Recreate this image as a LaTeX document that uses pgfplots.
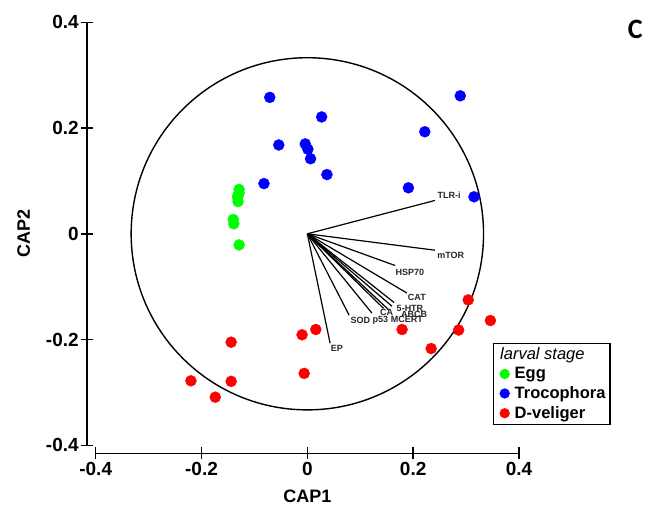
\documentclass[border=0pt]{standalone}
\usepackage{pgfplots}
\pgfplotsset{compat=1.18}
\usepackage{fontspec}
\setmainfont{Liberation Sans}
\newfontfamily\calibri{Carlito}
\definecolor{eggc}{RGB}{0,255,0}
\definecolor{troc}{RGB}{0,0,255}
\definecolor{dvel}{RGB}{255,0,0}
\begin{document}
\begin{tikzpicture}
\begin{axis}[
  scale only axis, width=423.3pt, height=423pt,
  xmin=-0.4, xmax=0.4, ymin=-0.4, ymax=0.4,
  axis lines=left, axis line style={-, line width=1.6pt},
  axis x line shift=8pt, axis y line shift=8.5pt,
  xtick={-0.4,-0.2,0,0.2,0.4}, ytick={-0.4,-0.2,0,0.2,0.4},
  tick align=center, major tick length=12pt,
  tick style={line width=1.4pt, black},
  /pgf/number format/assume math mode=true,
  tick label style={font=\bfseries\fontsize{19}{21}\selectfont},
  xticklabel style={yshift=1pt},
  yticklabel style={xshift=1pt},
  xlabel={CAP1}, ylabel={CAP2},
  label style={font=\bfseries\fontsize{18}{20}\selectfont},
  xlabel style={at={(axis description cs:0.5,-0.12)}, anchor=center},
  ylabel style={at={(axis description cs:-0.17,0.5)}, anchor=center},
  clip=false,
  legend style={at={(axis cs:0.351,-0.206)}, anchor=north west, draw=black,
    line width=1.2pt, font=\fontsize{16.5}{18}\selectfont, row sep=2.3pt, inner sep=2.5pt},
  legend cell align=left,
  legend image post style={mark size=4.5pt},
]
\coordinate (bl) at (rel axis cs:0,0);
\coordinate (tr) at (rel axis cs:1,1);
\draw[line width=1.4pt] (axis cs:0,0) circle [radius=0.333];

\addlegendimage{empty legend}
\addlegendentry{\hspace{-11pt}\textit{larval stage}}

\addplot[only marks, mark=*, mark size=5.5pt, color=eggc, mark options={draw=none, fill=eggc}] coordinates {
(-0.129,0.084) (-0.129,0.077) (-0.131,0.073) (-0.132,0.069) (-0.131,0.061)
(-0.140,0.027) (-0.139,0.019) (-0.129,-0.021)};
\addlegendentry{\hspace{3.5pt}\textbf{Egg}}

\addplot[only marks, mark=*, mark size=5.5pt, color=troc, mark options={draw=none, fill=troc}] coordinates {
(-0.071,0.258) (0.027,0.221) (-0.054,0.168) (-0.004,0.170) (0.001,0.160)
(0.006,0.142) (0.037,0.112) (-0.082,0.095) (0.289,0.261) (0.222,0.193)
(0.191,0.087) (0.315,0.070)};
\addlegendentry{\hspace{3.5pt}\textbf{Trocophora}}

\addplot[only marks, mark=*, mark size=5.5pt, color=dvel, mark options={draw=none, fill=dvel}] coordinates {
(-0.144,-0.205) (-0.220,-0.278) (-0.144,-0.279) (-0.174,-0.309) (-0.010,-0.191)
(0.016,-0.181) (-0.006,-0.264) (0.304,-0.125) (0.346,-0.164) (0.286,-0.182)
(0.234,-0.217) (0.179,-0.181)};
\addlegendentry{\hspace{3.5pt}\textbf{D-veliger}}

% vectors
\addplot[black, line width=1.2pt, forget plot] coordinates {(0,0) (0.241,0.063)};
\addplot[black, line width=1.2pt, forget plot] coordinates {(0,0) (0.241,-0.031)};
\addplot[black, line width=1.2pt, forget plot] coordinates {(0,0) (0.166,-0.060)};
\addplot[black, line width=1.2pt, forget plot] coordinates {(0,0) (0.188,-0.112)};
\addplot[black, line width=1.2pt, forget plot] coordinates {(0,0) (0.164,-0.130)};
\addplot[black, line width=1.2pt, forget plot] coordinates {(0,0) (0.160,-0.137)};
\addplot[black, line width=1.2pt, forget plot] coordinates {(0,0) (0.154,-0.144)};
\addplot[black, line width=1.2pt, forget plot] coordinates {(0,0) (0.144,-0.141)};
\addplot[black, line width=1.2pt, forget plot] coordinates {(0,0) (0.122,-0.150)};
\addplot[black, line width=1.2pt, forget plot] coordinates {(0,0) (0.079,-0.154)};
\addplot[black, line width=1.2pt, forget plot] coordinates {(0,0) (0.043,-0.207)};

\begin{scope}[every node/.style={font=\bfseries\fontsize{9}{10}\selectfont, text=black!85, inner sep=0pt, anchor=center}]
\node at (axis cs:0.268,0.073) {TLR-i};
\node at (axis cs:0.271,-0.041) {mTOR};
\node at (axis cs:0.194,-0.073) {HSP70};
\node at (axis cs:0.207,-0.121) {CAT};
\node at (axis cs:0.194,-0.141) {5-HTR};
\node at (axis cs:0.202,-0.153) {ABCB};
\node at (axis cs:0.188,-0.162) {MCERT};
\node at (axis cs:0.150,-0.149) {CA};
\node at (axis cs:0.138,-0.164) {p53};
\node at (axis cs:0.100,-0.164) {SOD};
\node at (axis cs:0.056,-0.217) {EP};
\end{scope}

\node[font=\calibri\bfseries\fontsize{28}{30}\selectfont, anchor=center] at (axis cs:0.620,0.387) {C};
\end{axis}
\pgfresetboundingbox
\path[use as bounding box] ([shift={(-95.7pt,-68.7pt)}]bl) rectangle ([shift={(138pt,22.3pt)}]tr);
\end{tikzpicture}
\end{document}
